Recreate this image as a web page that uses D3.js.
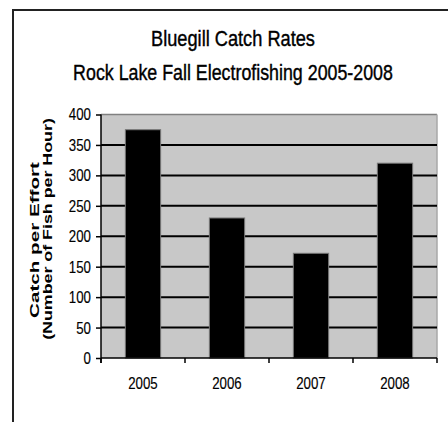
<!DOCTYPE html>
<html><head><meta charset="utf-8">
<script src="https://cdn.jsdelivr.net/npm/d3@7/dist/d3.min.js"></script>
<style>
html,body{margin:0;padding:0;background:#fff;}
</style></head><body>
<svg id="c" width="448" height="422"></svg>
<script>
const categories = ["2005","2006","2007","2008"];
const values = [375, 230, 172, 320];
const yTicks = [0,50,100,150,200,250,300,350,400];
const titleLines = ["Bluegill Catch Rates","Rock Lake Fall Electrofishing 2005-2008"];
const yTitleLines = ["Catch per Effort","(Number of Fish per Hour)"];

const FONT="'Liberation Sans',Arial,sans-serif";
const svg = d3.select("#c");
const W=448,H=422;
svg.append("rect").attr("width",W).attr("height",H).attr("fill","#fff");
svg.append("path").attr("d","M13,422V10H448")
  .attr("fill","none").attr("stroke","#222").attr("stroke-width",2);

const L=101,R=437,T=114.5,B=358;
const x=d3.scaleBand().domain(categories).range([L,R]).paddingInner(0.58).paddingOuter(0.29);
const xb=d3.scaleBand().domain(categories).range([L,R]);
const y=d3.scaleLinear().domain([0,400]).range([B,T]);

function narrow(sel,f){
  sel.each(function(){
    const w=this.getComputedTextLength();
    d3.select(this).attr("textLength",w*f).attr("lengthAdjust","spacingAndGlyphs");
  });
}

svg.append("rect").attr("x",L).attr("y",T).attr("width",R-L).attr("height",B-T).attr("fill","#c8c8c8");
svg.append("line").attr("x1",L).attr("x2",R).attr("y1",T).attr("y2",T).attr("stroke","#808080").attr("stroke-width",1.5);
svg.append("line").attr("x1",R).attr("x2",R).attr("y1",T).attr("y2",B).attr("stroke","#a8a8a8").attr("stroke-width",1.5);

svg.append("g").selectAll("line").data(yTicks.filter(d=>d>0&&d<400)).join("line")
  .attr("x1",L).attr("x2",R).attr("y1",d=>y(d)).attr("y2",d=>y(d))
  .attr("stroke","#000").attr("stroke-width",2);

svg.append("g").selectAll("rect").data(values).join("rect")
  .attr("x",(d,i)=>x(categories[i])).attr("width",x.bandwidth())
  .attr("y",d=>y(d)).attr("height",d=>B-y(d))
  .attr("fill","#000").attr("stroke","#777").attr("stroke-width",1);

const ya=svg.append("g").attr("transform",`translate(${L},0)`)
  .call(d3.axisLeft(y).tickValues(yTicks).tickSize(5).tickPadding(5));
ya.select(".domain").attr("stroke","#000").attr("stroke-width",1.5).attr("d",`M0,${T}V${B+5}`);
ya.selectAll(".tick line").attr("stroke","#000").attr("stroke-width",1.5);
ya.selectAll(".tick text").attr("font-family",FONT).attr("font-size",17).attr("fill","#000")
  .attr("stroke","#000").attr("stroke-width",0.15).call(narrow,0.78);

const xa=svg.append("g").attr("transform",`translate(0,${B})`)
  .call(d3.axisBottom(xb).tickSize(0).tickPadding(19));
xa.select(".domain").attr("stroke","#000").attr("stroke-width",1.5).attr("d",`M${L},0H${R}`);
xa.selectAll(".tick text").attr("font-family",FONT).attr("font-size",17).attr("fill","#000")
  .attr("stroke","#000").attr("stroke-width",0.15).call(narrow,0.78);
xa.selectAll(".bt").data(categories.concat(["_end"])).join("line")
  .attr("x1",(d,i)=>i<categories.length?xb(d):R).attr("x2",(d,i)=>i<categories.length?xb(d):R)
  .attr("y1",0).attr("y2",5).attr("stroke","#000").attr("stroke-width",1.5);

// title, condensed with a horizontal scale so its box stays honest
const tl=[[45.5,164],[80,320]];
svg.append("g").selectAll("text").data(titleLines).join("text")
  .attr("font-family",FONT).attr("x",0).attr("y",0)
  .attr("text-anchor","middle").attr("font-size",21.5).attr("fill","#000")
  .attr("stroke","#000").attr("stroke-width",0.4)
  .text(d=>d)
  .each(function(d,i){
    const w=this.getComputedTextLength();
    d3.select(this).attr("transform",`translate(233,${tl[i][0]}) scale(${tl[i][1]/w},1)`);
  });

const yl=[[39,156,240],[51.5,222,229]];
svg.append("g").selectAll("text").data(yTitleLines).join("text")
  .attr("text-anchor","middle").attr("font-family",FONT)
  .attr("font-weight","bold").attr("font-size",13.5).attr("fill","#000")
  .text(d=>d)
  .each(function(d,i){
    const w=this.getComputedTextLength();
    d3.select(this).attr("transform",`translate(${yl[i][0]},${yl[i][2]}) rotate(-90) scale(${yl[i][1]/w},1)`);
  });
</script></body></html>
